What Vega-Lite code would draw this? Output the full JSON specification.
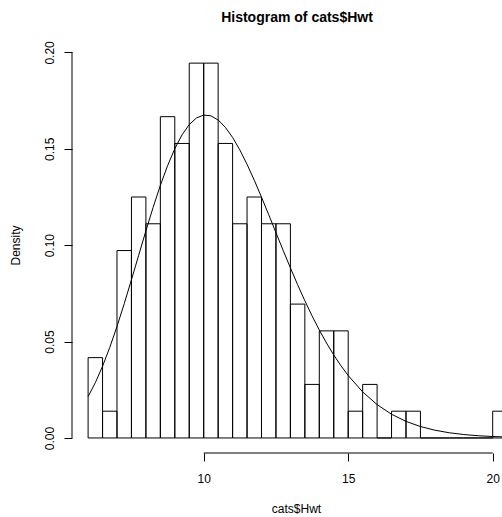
{
  "$schema": "https://vega.github.io/schema/vega-lite/v6.json",
  "autosize": {"type": "none"},
  "padding": {"left": 72, "top": 37, "right": 0, "bottom": 64},
  "width": 430,
  "height": 416,
  "background": "white",
  "config": {
    "view": {"stroke": null},
    "font": "Liberation Sans",
    "axis": {"grid": false, "domain": false, "tickColor": "black", "tickWidth": 1, "tickSize": 8, "labelColor": "black", "labelFont": "Liberation Sans", "labelFontSize": 12, "titleFont": "Liberation Sans", "titleFontSize": 12, "titleFontWeight": "normal", "titleColor": "black"}
  },
  "title": {"text": "Histogram of cats$Hwt", "fontSize": 14, "fontWeight": "bold", "font": "Liberation Sans", "color": "black", "anchor": "middle", "dx": 10, "baseline": "alphabetic", "offset": 1},
  "datasets": {
    "bins": [
      {"start": 6.0, "end": 6.5, "density": 0.04167},
      {"start": 6.5, "end": 7.0, "density": 0.01389},
      {"start": 7.0, "end": 7.5, "density": 0.09722},
      {"start": 7.5, "end": 8.0, "density": 0.125},
      {"start": 8.0, "end": 8.5, "density": 0.11111},
      {"start": 8.5, "end": 9.0, "density": 0.16667},
      {"start": 9.0, "end": 9.5, "density": 0.15278},
      {"start": 9.5, "end": 10.0, "density": 0.19444},
      {"start": 10.0, "end": 10.5, "density": 0.19444},
      {"start": 10.5, "end": 11.0, "density": 0.15278},
      {"start": 11.0, "end": 11.5, "density": 0.11111},
      {"start": 11.5, "end": 12.0, "density": 0.125},
      {"start": 12.0, "end": 12.5, "density": 0.11111},
      {"start": 12.5, "end": 13.0, "density": 0.11111},
      {"start": 13.0, "end": 13.5, "density": 0.06944},
      {"start": 13.5, "end": 14.0, "density": 0.02778},
      {"start": 14.0, "end": 14.5, "density": 0.05556},
      {"start": 14.5, "end": 15.0, "density": 0.05556},
      {"start": 15.0, "end": 15.5, "density": 0.01389},
      {"start": 15.5, "end": 16.0, "density": 0.02778},
      {"start": 16.0, "end": 16.5, "density": 0},
      {"start": 16.5, "end": 17.0, "density": 0.01389},
      {"start": 17.0, "end": 17.5, "density": 0.01389},
      {"start": 17.5, "end": 18.0, "density": 0},
      {"start": 18.0, "end": 18.5, "density": 0},
      {"start": 18.5, "end": 19.0, "density": 0},
      {"start": 19.0, "end": 19.5, "density": 0},
      {"start": 19.5, "end": 20.0, "density": 0},
      {"start": 20.0, "end": 20.5, "density": 0.01389}
    ],
    "curve": [
      {"hwt": 6.0, "density": 0.02147},
      {"hwt": 6.25, "density": 0.02866},
      {"hwt": 6.5, "density": 0.03719},
      {"hwt": 6.75, "density": 0.04697},
      {"hwt": 7.0, "density": 0.05784},
      {"hwt": 7.25, "density": 0.06964},
      {"hwt": 7.5, "density": 0.08206},
      {"hwt": 7.75, "density": 0.09477},
      {"hwt": 8.0, "density": 0.10742},
      {"hwt": 8.25, "density": 0.11961},
      {"hwt": 8.5, "density": 0.13101},
      {"hwt": 8.75, "density": 0.14124},
      {"hwt": 9.0, "density": 0.15006},
      {"hwt": 9.25, "density": 0.15722},
      {"hwt": 9.5, "density": 0.16256},
      {"hwt": 9.75, "density": 0.16599},
      {"hwt": 10.0, "density": 0.16749},
      {"hwt": 10.25, "density": 0.1671},
      {"hwt": 10.5, "density": 0.16494},
      {"hwt": 10.75, "density": 0.16114},
      {"hwt": 11.0, "density": 0.15591},
      {"hwt": 11.25, "density": 0.14944},
      {"hwt": 11.5, "density": 0.14196},
      {"hwt": 11.75, "density": 0.13372},
      {"hwt": 12.0, "density": 0.12492},
      {"hwt": 12.25, "density": 0.1158},
      {"hwt": 12.5, "density": 0.10653},
      {"hwt": 12.75, "density": 0.09729},
      {"hwt": 13.0, "density": 0.08825},
      {"hwt": 13.25, "density": 0.07951},
      {"hwt": 13.5, "density": 0.07119},
      {"hwt": 13.75, "density": 0.06333},
      {"hwt": 14.0, "density": 0.05601},
      {"hwt": 14.25, "density": 0.04925},
      {"hwt": 14.5, "density": 0.04306},
      {"hwt": 14.75, "density": 0.03745},
      {"hwt": 15.0, "density": 0.0324},
      {"hwt": 15.5, "density": 0.0239},
      {"hwt": 16.0, "density": 0.0173},
      {"hwt": 16.5, "density": 0.0123},
      {"hwt": 17.0, "density": 0.0086},
      {"hwt": 17.5, "density": 0.00593},
      {"hwt": 18.0, "density": 0.00402},
      {"hwt": 18.5, "density": 0.00269},
      {"hwt": 19.0, "density": 0.00178},
      {"hwt": 19.5, "density": 0.00116},
      {"hwt": 20.0, "density": 0.00075},
      {"hwt": 20.5, "density": 0.00048}
    ]
  },
  "layer": [
    {
      "data": {"name": "bins"},
      "mark": {"type": "rect", "fill": "white", "fillOpacity": 0, "stroke": "black", "strokeWidth": 1, "clip": true},
      "encoding": {
        "x": {"field": "start", "type": "quantitative",
              "scale": {"domain": [5.443, 20.322], "nice": false, "zero": false},
              "axis": {"values": [10, 15, 20], "labelBaseline": "alphabetic", "labelPadding": 21, "title": "cats$Hwt", "titleX": 224, "titleY": 59, "titleBaseline": "alphabetic", "titleAlign": "center", "titleAnchor": null}},
        "x2": {"field": "end"},
        "y": {"field": "density", "type": "quantitative",
              "scale": {"domain": [-0.0078, 0.208], "nice": false, "zero": false},
              "axis": {"values": [0, 0.05, 0.1, 0.15, 0.2], "format": ".2f", "labelAngle": 270, "labelAlign": "center", "labelBaseline": "bottom", "labelPadding": 8, "title": "Density", "titleAngle": 270, "titleX": -52.5, "titleY": 208, "titleBaseline": "alphabetic", "titleAlign": "center", "titleAnchor": null}},
        "y2": {"datum": 0}
      }
    },
    {
      "data": {"name": "curve"},
      "mark": {"type": "line", "color": "black", "strokeWidth": 1, "clip": true},
      "encoding": {
        "x": {"field": "hwt", "type": "quantitative"},
        "y": {"field": "density", "type": "quantitative"}
      }
    },
    {
      "data": {"values": [{}]},
      "mark": {"type": "rule", "color": "black", "strokeWidth": 1},
      "encoding": {
        "x": {"datum": 5.443, "type": "quantitative"},
        "y": {"datum": 0, "type": "quantitative"},
        "y2": {"datum": 0.2}
      }
    },
    {
      "data": {"values": [{}]},
      "mark": {"type": "rule", "color": "black", "strokeWidth": 1},
      "encoding": {
        "x": {"datum": 10, "type": "quantitative"},
        "x2": {"datum": 20},
        "y": {"datum": -0.0078, "type": "quantitative"}
      }
    }
  ]
}
